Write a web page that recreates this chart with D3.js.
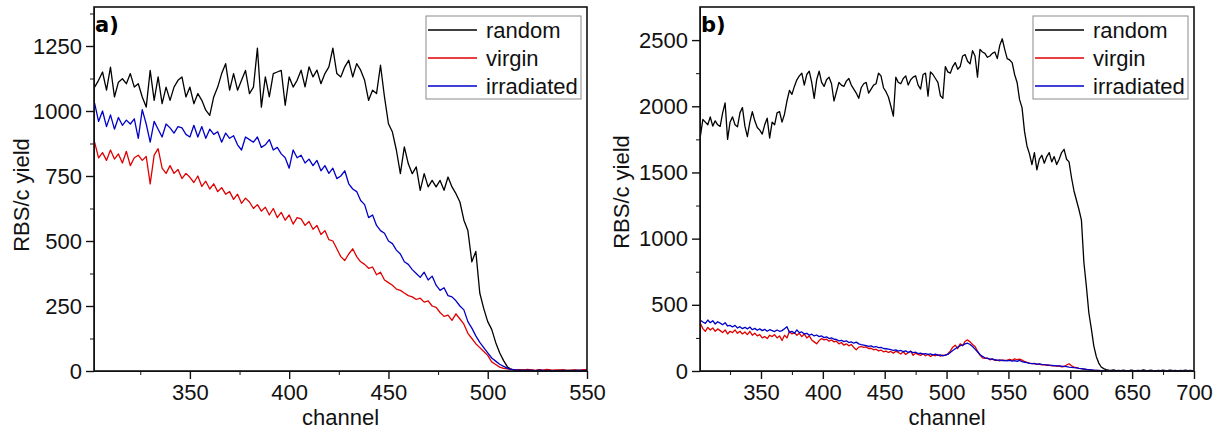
<!doctype html>
<html lang="en">
<head>
<meta charset="utf-8">
<title>RBS/c yield vs channel</title>
<script src="https://d3js.org/d3.v7.min.js"></script>
<style>
  body { margin: 0; background: #fff; }
  svg text { font-family: "Liberation Sans", Arial, sans-serif; }
  .axis path, .axis line { stroke: #111; }
</style>
</head>
<body>
<div id="chart"></div>
<script>
const seriesNames = ["random", "virgin", "irradiated"];
const seriesColors = ["#000000", "#e00000", "#0000c8"];

// panel a) : channel 302 .. 550, every 2nd channel
const chanStartA = 302, chanStepA = 2;
const randomA = [
  1092,1118,1150,1080,1169,1054,1111,1124,1105,1144,
  1092,1105,1054,1015,1156,1041,1131,1028,1092,1041,
  1092,1118,1131,1054,1092,1028,1067,1041,1003,983,
  1054,1092,1144,1182,1080,1144,1080,1118,1156,1067,
  1092,1242,1015,1131,1054,1144,1150,1156,1022,1131,
  1092,1118,1157,1093,1170,1131,1157,1105,1144,1170,
  1242,1144,1131,1170,1195,1131,1182,1157,1118,1041,
  1080,1067,1176,1054,951,919,849,759,862,797,
  759,785,695,759,708,733,708,733,695,746,
  708,682,650,580,540,420,460,300,240,190,
  160,110,70,40,15,6,3,2,4,1,
  3,1,2,0,4,2,1,3,0,2,
  1,3,0,2,5
];
const virginA = [
  880,820,840,810,850,815,835,800,845,790,
  820,830,810,825,720,830,855,780,760,790,
  760,775,740,760,745,725,750,710,730,700,
  720,690,705,680,690,660,680,645,665,650,
  625,640,615,630,600,625,590,610,580,600,
  565,590,585,560,575,545,560,525,540,505,
  500,470,440,425,450,470,440,420,410,395,
  400,370,380,350,340,330,315,310,300,290,
  285,275,280,265,270,250,245,225,210,215,
  195,220,200,180,145,125,105,90,75,60,
  35,25,15,10,8,6,4,5,3,6,
  4,2,5,3,6,2,4,3,5,2,
  3,4,2,5,3
];
const irradiatedA = [
  1030,960,1000,940,985,930,975,945,965,950,
  970,895,1005,950,880,960,930,900,950,935,
  915,940,935,910,900,945,900,940,895,930,
  910,920,880,915,895,905,870,850,900,890,
  880,900,860,870,890,850,860,835,820,780,
  850,820,830,800,815,790,810,770,790,760,
  780,740,750,770,720,700,690,656,640,590,
  600,560,540,530,500,490,465,450,420,410,
  390,375,360,380,350,365,330,310,320,290,
  285,270,250,235,190,165,135,110,90,70,
  50,38,26,18,10,6,4,3,2,3,
  2,1,3,2,1,2,0,1,2,1,
  2,1,3,1,2
];

// panel b) : channel 301 .. 699, every 2nd channel
const chanStartB = 301, chanStepB = 2;
const randomB = [
  1773,1900,1880,1860,1920,1850,1890,1860,1848,1950,
  2025,1750,1880,1920,1860,1845,1950,1990,1850,1770,
  1880,1960,1890,1840,1820,1790,1860,1910,1760,1880,
  1860,1950,1960,1880,1940,2040,2120,2090,2150,2200,
  2230,2250,2160,2240,2265,2180,2060,2200,2265,2180,
  2150,2200,2220,2170,2040,2110,2180,2160,2150,2190,
  2210,2160,2130,2100,2060,2140,2170,2180,2100,2130,
  2160,2170,2250,2230,2140,2110,2070,2000,1925,2220,
  2180,2170,2210,2230,2160,2200,2220,2230,2160,2130,
  2240,2250,2076,2260,2240,2210,2180,2080,2060,2300,
  2260,2250,2300,2330,2280,2300,2380,2390,2340,2320,
  2420,2380,2220,2430,2410,2400,2370,2380,2400,2410,
  2360,2460,2510,2430,2360,2350,2330,2240,2180,2050,
  1990,1810,1700,1640,1560,1650,1520,1600,1630,1570,
  1620,1650,1580,1620,1560,1600,1650,1675,1600,1580,
  1460,1360,1290,1220,1140,820,640,440,320,190,
  110,60,30,18,10,6,4,8,3,5,
  2,6,3,1,7,4,2,5,3,8,
  4,2,6,3,1,5,2,7,3,4,
  6,2,4,1,5,3,7,2,4,3
];
const virginB = [
  360,320,300,330,310,325,300,318,305,290,
  310,280,300,290,310,285,300,280,295,275,
  300,270,285,265,275,250,260,245,270,260,
  275,250,265,230,270,250,300,280,290,270,
  285,260,280,250,265,235,220,205,230,245,
  235,240,225,235,220,225,205,215,195,205,
  190,200,178,160,180,185,178,182,170,172,
  160,165,152,158,145,150,140,148,135,150,
  140,128,145,125,138,150,118,135,125,118,
  130,115,125,110,122,115,125,112,120,118,
  130,150,180,195,170,205,190,225,235,220,
  200,185,150,120,100,95,98,85,90,80,
  82,76,84,78,82,88,80,92,85,90,
  82,72,65,60,55,58,50,52,46,48,
  42,44,38,40,36,38,32,34,45,55,
  40,30,25,20,18,14,12,9,7,5,
  4,3,2,1,2,1,0,1,2,0,
  1,0,2,1,0,1,1,0,2,1,
  0,1,1,2,0,1,0,1,1,0,
  1,2,0,1,1,0,1,2,0,1
];
const irradiatedB = [
  384,370,360,385,365,380,355,372,362,350,
  365,340,345,333,345,325,335,320,330,318,
  332,312,322,308,318,305,315,300,312,305,
  298,310,300,305,320,335,290,300,285,310,
  290,295,280,285,270,278,265,272,260,265,
  252,258,245,250,240,238,228,232,222,228,
  215,220,210,218,205,200,196,192,186,190,
  180,185,176,178,170,168,165,162,155,160,
  150,155,146,152,140,148,138,142,132,135,
  128,132,125,130,122,127,118,122,115,120,
  125,140,155,168,180,192,195,205,210,200,
  185,165,145,125,110,100,96,90,92,85,
  80,84,78,80,76,80,74,78,72,80,
  70,66,64,58,56,55,52,54,50,48,
  47,44,42,40,38,38,36,35,33,30,
  28,25,23,20,18,15,12,10,8,6,
  5,4,3,2,1,1,0,1,0,1,
  0,1,1,0,1,0,2,0,1,0,
  1,0,1,1,0,1,0,0,1,1,
  0,1,0,1,0,1,1,0,1,0
];

const xTicksA = [350, 400, 450, 500, 550];
const xMinorA = [325, 375, 425, 475, 525];
const yTicksA = [0, 250, 500, 750, 1000, 1250];
const yMinorA = [125, 375, 625, 875, 1125, 1375];
const xTicksB = [350, 400, 450, 500, 550, 600, 650, 700];
const xMinorB = [325, 375, 425, 475, 525, 575, 625, 675];
const yTicksB = [0, 500, 1000, 1500, 2000, 2500];
const yMinorB = [250, 750, 1250, 1750, 2250];

const width = 1223, height = 433;
const svg = d3.select("#chart").append("svg")
  .attr("width", width)
  .attr("height", height);

function drawPanel(p) {
  const x = d3.scaleLinear().domain(p.xDomain).range([p.left, p.right]);
  const y = d3.scaleLinear().domain(p.yDomain).range([p.bottom, p.top]);
  const g = svg.append("g");

  // data lines
  const line = d3.line()
    .x((d, i) => x(p.start + i * p.step))
    .y(d => y(d));
  p.series.forEach((s, k) => {
    g.append("path")
      .datum(s)
      .attr("fill", "none")
      .attr("stroke", seriesColors[k])
      .attr("stroke-width", 1.3)
      .attr("stroke-linejoin", "round")
      .attr("d", line);
  });

  // minor ticks
  g.append("g").attr("class", "axis")
    .attr("transform", `translate(0,${p.bottom})`)
    .call(d3.axisBottom(x).tickValues(p.xMinor).tickSize(4).tickSizeOuter(0).tickFormat(""));
  g.append("g").attr("class", "axis")
    .attr("transform", `translate(${p.left},0)`)
    .call(d3.axisLeft(y).tickValues(p.yMinor).tickSize(4).tickSizeOuter(0).tickFormat(""));

  // major ticks + labels
  const xa = g.append("g").attr("class", "axis")
    .attr("transform", `translate(0,${p.bottom})`)
    .call(d3.axisBottom(x).tickValues(p.xTicks).tickSize(8).tickPadding(5)
      .tickSizeOuter(0).tickFormat(d3.format("d")));
  const ya = g.append("g").attr("class", "axis")
    .attr("transform", `translate(${p.left},0)`)
    .call(d3.axisLeft(y).tickValues(p.yTicks).tickSize(8).tickPadding(4)
      .tickSizeOuter(0).tickFormat(d3.format("d")));
  [xa, ya].forEach(a => {
    a.selectAll("line").attr("stroke-width", 1.4);
    a.selectAll("text")
      .style("font-size", "22px")
      .style("font-family", "'Liberation Sans', Arial, sans-serif")
      .attr("fill", "#111");
  });

  // frame
  g.append("rect")
    .attr("x", p.left)
    .attr("y", p.top)
    .attr("width", p.right - p.left)
    .attr("height", p.bottom - p.top)
    .attr("fill", "none")
    .attr("stroke", "#111")
    .attr("stroke-width", 1.6);

  // panel tag
  g.append("text")
    .attr("x", p.left + 1)
    .attr("y", p.top + 25)
    .style("font-family", "'DejaVu Sans', Verdana, sans-serif")
    .style("font-weight", "bold")
    .style("font-size", "21px")
    .attr("fill", "#000")
    .text(p.tag);

  // axis titles
  g.append("text")
    .attr("x", (p.left + p.right) / 2)
    .attr("y", 425)
    .attr("text-anchor", "middle")
    .style("font-size", "22px")
    .attr("fill", "#111")
    .text("channel");
  g.append("text")
    .attr("transform", `translate(${p.yTitleX},${p.yTitleY}) rotate(-90)`)
    .attr("text-anchor", "middle")
    .style("font-size", "22px")
    .attr("fill", "#111")
    .text("RBS/c yield");

  // legend
  const lg = g.append("g").attr("transform", `translate(${p.legX},${p.legY})`);
  lg.append("rect")
    .attr("width", 155)
    .attr("height", 83)
    .attr("fill", "#fff")
    .attr("stroke", "#8a8a8a")
    .attr("stroke-width", 1);
  seriesNames.forEach((name, k) => {
    const cy = 14 + k * 28;
    lg.append("line")
      .attr("x1", 2).attr("x2", 51)
      .attr("y1", cy).attr("y2", cy)
      .attr("stroke", seriesColors[k])
      .attr("stroke-width", 1.3);
    lg.append("text")
      .attr("x", 60)
      .attr("y", cy + 8)
      .style("font-size", "22px")
      .attr("fill", "#111")
      .text(name);
  });
}

drawPanel({
  tag: "a)",
  left: 94, right: 587, top: 7, bottom: 371,
  xDomain: [301.7, 550], yDomain: [0, 1400],
  xTicks: xTicksA, xMinor: xMinorA, yTicks: yTicksA, yMinor: yMinorA,
  start: chanStartA, step: chanStepA,
  series: [randomA, virginA, irradiatedA],
  yTitleX: 29, yTitleY: 195,
  legX: 426, legY: 16
});

drawPanel({
  tag: "b)",
  left: 700, right: 1194, top: 7, bottom: 371,
  xDomain: [300.7, 700], yDomain: [0, 2750],
  xTicks: xTicksB, xMinor: xMinorB, yTicks: yTicksB, yMinor: yMinorB,
  start: chanStartB, step: chanStepB,
  series: [randomB, virginB, irradiatedB],
  yTitleX: 629, yTitleY: 192,
  legX: 1033, legY: 16
});
</script>
</body>
</html>
